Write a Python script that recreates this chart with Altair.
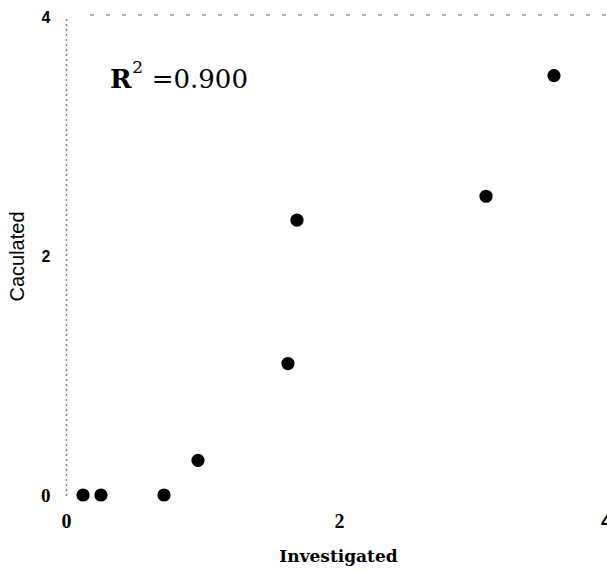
import altair as alt
import pandas as pd

# Investigated vs. calculated values
investigated = [0.125, 0.256, 0.718, 0.967, 1.626, 1.692, 3.077, 3.575]
calculated = [0.0, 0.0, 0.0, 0.29, 1.10, 2.30, 2.50, 3.51]

# R^2 annotation pieces: text, x, y (data units)
note_text = ["R", "2", "=0.900"]
note_x = [0.322, 0.486, 0.628]
note_y = [3.405, 3.53, 3.405]

x_ticks = [0, 2, 4]
y_ticks = [0, 2, 4]

points = pd.DataFrame({"Investigated": investigated, "Caculated": calculated})
notes = pd.DataFrame({"t": note_text, "x": note_x, "y": note_y})

x_scale = alt.Scale(domain=[0, 4], nice=False, zero=False)
y_scale = alt.Scale(domain=[0, 4], nice=False, zero=False)

x_axis = alt.Axis(
    values=x_ticks, format="d", labelFlush=False, grid=False, ticks=False, domain=False,
    labelFont={"condition": {"test": "datum.value === 4", "value": "Liberation Sans"},
               "value": "Liberation Serif"},
    labelOffset={"condition": {"test": "datum.value === 4", "value": -6}, "value": 0},
    labelFontWeight="bold", labelFontSize=20,
    labelColor="black", labelPadding=16,
    title="Investigated", titleFont="DejaVu Serif", titleFontWeight="bold",
    titleFontSize=17, titleColor="black", titleX=272, titleY=61,
    titleBaseline="middle", titleAlign="center",
)
y_axis = alt.Axis(
    values=y_ticks, format="d", labelFlush=False, grid=False, ticks=False,
    domain=True, domainColor="black", domainWidth=1.5, domainDash=[1, 4],
    labelFont={"condition": {"test": "datum.value === 0", "value": "Liberation Serif"},
               "value": "Liberation Sans"},
    labelFontSize={"condition": {"test": "datum.value === 0", "value": 19}, "value": 16},
    labelFontWeight="bold", labelColor="black", labelPadding=16,
    title="Caculated", titleFont="Liberation Sans", titleFontWeight="normal",
    titleFontSize=20, titleColor="black", titleX=-49, titleY=239,
    titleBaseline="middle", titleAlign="center", titleAngle=270,
)

dots = alt.Chart(points).mark_circle(size=175, color="black", opacity=1).encode(
    x=alt.X("Investigated:Q", scale=x_scale, axis=x_axis),
    y=alt.Y("Caculated:Q", scale=y_scale, axis=y_axis),
)

# faint dashed frame line along the top
top_line = alt.Chart(pd.DataFrame({"y": [4.0]})).mark_rule(
    color="#444444", strokeWidth=1, strokeDash=[4, 12], opacity=0.8
).encode(y=alt.value(-2), x=alt.value(24), x2=alt.value(546))

def note(i, size, weight):
    return alt.Chart(notes.iloc[[i]]).mark_text(
        font="DejaVu Serif", fontSize=size, fontWeight=weight, color="black",
        align="left", baseline="alphabetic",
    ).encode(
        x=alt.X("x:Q", scale=x_scale, axis=x_axis),
        y=alt.Y("y:Q", scale=y_scale, axis=y_axis),
        text="t:N",
    )

chart = alt.layer(
    top_line, dots,
    note(0, 26, "bold"), note(1, 17, "normal"), note(2, 26, "normal"),
).properties(
    width=546, height=478,
    background="white",
    autosize=alt.AutoSizeParams(type="none"),
    padding={"left": 66, "top": 17, "right": -5, "bottom": 78},
).configure_view(stroke="transparent", strokeWidth=0)

chart.save("out.html", embed_options={"renderer": "svg", "actions": False})
